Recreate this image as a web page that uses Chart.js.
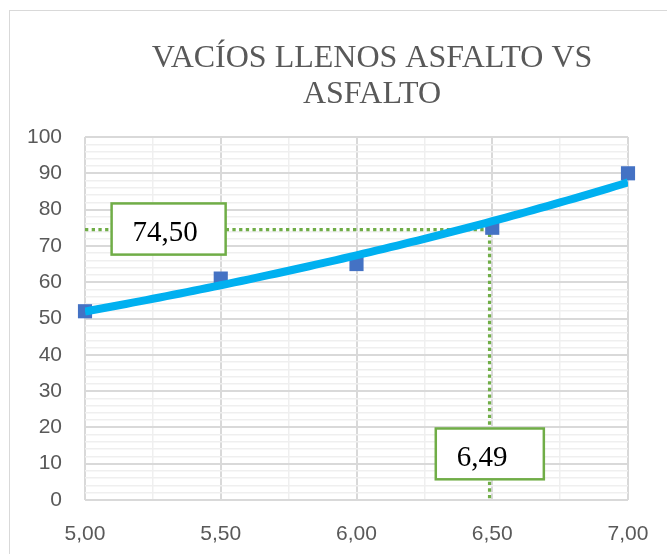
<!DOCTYPE html>
<html>
<head>
<meta charset="utf-8">
<script src="https://cdn.jsdelivr.net/npm/chart.js@4/dist/chart.umd.min.js"></script>
<style>
  html, body { margin: 0; padding: 0; background: #ffffff; }
  canvas { display: block; }
</style>
</head>
<body>
<canvas id="chart" width="667" height="554"></canvas>
<script>
// Chart title (two lines)
const titleLines = ['VACÍOS LLENOS ASFALTO VS', 'ASFALTO'];

// Measured points: asphalt content (%) vs voids filled with asphalt (%)
const asphaltContent = [5.0, 5.5, 6.0, 6.5, 7.0];
const filledVoids = [52, 61, 65, 75, 90];

// Design reading taken off the trend line
const designAsphalt = 6.49;
const designVfa = 74.50;

// Axis ranges and label steps
const xMin = 5.0, xMax = 7.0, xLabelStep = 0.5, xGridStep = 0.25;
const yMin = 0, yMax = 100, yLabelStep = 10, yGridStep = 2;

const fmt = v => v.toFixed(2).replace('.', ',');

// Exponential trend line y = a·e^(b·x), least squares on ln(y)
function expFit(xs, ys) {
  const n = xs.length;
  const lys = ys.map(Math.log);
  const mx = xs.reduce((s, v) => s + v, 0) / n;
  const my = lys.reduce((s, v) => s + v, 0) / n;
  let sxy = 0, sxx = 0;
  for (let i = 0; i < n; i++) {
    sxy += (xs[i] - mx) * (lys[i] - my);
    sxx += (xs[i] - mx) * (xs[i] - mx);
  }
  const b = sxy / sxx;
  const a = Math.exp(my - b * mx);
  return x => a * Math.exp(b * x);
}
const trend = expFit(asphaltContent, filledVoids);
const trendPoints = [];
for (let i = 0; i <= 80; i++) {
  const x = xMin + (xMax - xMin) * i / 80;
  trendPoints.push({ x, y: trend(x) });
}

const measured = asphaltContent.map((x, i) => ({ x, y: filledVoids[i] }));
const guide = [
  { x: xMin, y: designVfa },
  { x: designAsphalt, y: designVfa },
  { x: designAsphalt, y: yMin }
];

// Value boxes, placed in axis units
const valueBoxes = [
  { text: fmt(designVfa), x0: 5.098, x1: 5.518, y0: 81.7, y1: 67.6 },
  { text: fmt(designAsphalt), x0: 6.292, x1: 6.690, y0: 19.7, y1: 5.7 }
];

const GREEN = '#70AD47';
const GREY_TEXT = '#595959';

const decorations = {
  id: 'decorations',
  beforeDraw(chart) {
    const ctx = chart.ctx;
    ctx.save();
    ctx.fillStyle = '#ffffff';
    ctx.fillRect(0, 0, chart.width, chart.height);
    ctx.strokeStyle = '#d9d9d9';
    ctx.lineWidth = 1;
    ctx.strokeRect(9.5, 10.5, chart.width + 20, chart.height + 20);
    ctx.fillStyle = GREY_TEXT;
    ctx.font = '32px "Liberation Serif", "Times New Roman", serif';
    ctx.textAlign = 'center';
    ctx.textBaseline = 'alphabetic';
    ctx.fillText(titleLines[0], 372, 67);
    ctx.fillText(titleLines[1], 372, 103);
    ctx.restore();
  },
  afterDatasetsDraw(chart) {
    const ctx = chart.ctx;
    const xs = chart.scales.x, ys = chart.scales.y;
    ctx.save();
    valueBoxes.forEach(b => {
      const l = xs.getPixelForValue(b.x0), r = xs.getPixelForValue(b.x1);
      const t = ys.getPixelForValue(b.y0), btm = ys.getPixelForValue(b.y1);
      ctx.fillStyle = '#ffffff';
      ctx.fillRect(l, t, r - l, btm - t);
      ctx.strokeStyle = GREEN;
      ctx.lineWidth = 2.5;
      ctx.strokeRect(l, t, r - l, btm - t);
      ctx.fillStyle = '#000000';
      ctx.font = '29px "Liberation Serif", "Times New Roman", serif';
      ctx.textAlign = 'left';
      ctx.textBaseline = 'alphabetic';
      ctx.fillText(b.text, l + 21, t + 37.5);
    });
    ctx.restore();
  }
};

new Chart(document.getElementById('chart'), {
  type: 'scatter',
  data: {
    datasets: [
      {
        label: 'Exponencial',
        type: 'line',
        data: trendPoints,
        borderColor: '#00B0F0',
        borderWidth: 8,
        borderCapStyle: 'butt',
        pointRadius: 0,
        fill: false,
        tension: 0,
        order: 1
      },
      {
        label: 'VFA',
        data: measured,
        pointStyle: 'rect',
        pointRadius: 10,
        backgroundColor: '#4472C4',
        borderColor: '#4472C4',
        borderWidth: 0,
        clip: false,
        order: 2
      },
      {
        label: 'Lectura',
        type: 'line',
        data: guide,
        borderColor: GREEN,
        borderWidth: 3.2,
        borderDash: [3.3, 3.4],
        borderCapStyle: 'butt',
        pointRadius: 0,
        fill: false,
        clip: false,
        order: 3
      }
    ]
  },
  options: {
    responsive: false,
    animation: false,
    layout: { autoPadding: false, padding: { top: 137, left: 10, right: 39, bottom: 0 } },
    plugins: {
      legend: { display: false },
      tooltip: { enabled: false },
      title: { display: false }
    },
    scales: {
      x: {
        type: 'linear',
        min: xMin,
        max: xMax,
        afterFit(scale) {
          scale.height = 54;
          scale.paddingLeft = 0;
          scale.paddingRight = 0;
        },
        ticks: {
          stepSize: xGridStep,
          autoSkip: false,
          maxRotation: 0,
          padding: 22,
          color: GREY_TEXT,
          font: { family: '"Liberation Sans", Arial, sans-serif', size: 21 },
          callback: v => (Math.round(v / xGridStep) % Math.round(xLabelStep / xGridStep) === 0 ? fmt(v) : '')
        },
        grid: {
          drawTicks: false,
          color: c => (Math.round(c.tick.value / xGridStep) % 2 === 0 ? '#d9d9d9' : '#efefef'),
          lineWidth: c => (Math.round(c.tick.value / xGridStep) % 2 === 0 ? 2 : 1.5)
        },
        border: { display: false }
      },
      y: {
        type: 'linear',
        min: yMin,
        max: yMax,
        afterFit(scale) { scale.width = 75; },
        ticks: {
          stepSize: yGridStep,
          autoSkip: false,
          padding: 23,
          color: GREY_TEXT,
          font: { family: '"Liberation Sans", Arial, sans-serif', size: 21 },
          callback: v => (Math.round(v) % yLabelStep === 0 ? String(v) : '')
        },
        grid: {
          drawTicks: false,
          color: c => (Math.round(c.tick.value) % yLabelStep === 0 ? '#d9d9d9' : '#efefef'),
          lineWidth: c => (Math.round(c.tick.value) % yLabelStep === 0 ? 2 : 1.5)
        },
        border: { display: false }
      }
    }
  },
  plugins: [decorations]
});
</script>
</body>
</html>
